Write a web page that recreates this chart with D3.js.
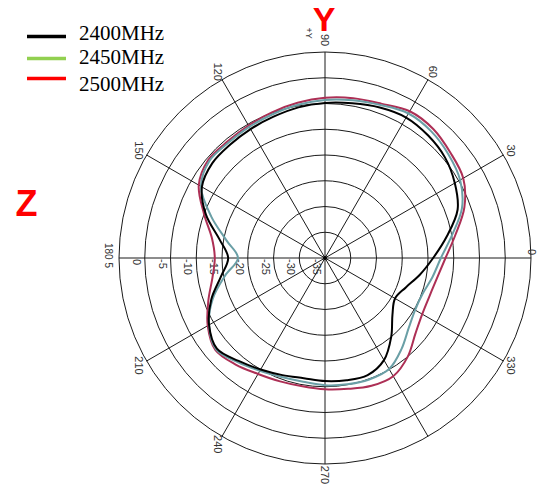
<!DOCTYPE html>
<html>
<head>
<meta charset="utf-8">
<script src="https://cdn.jsdelivr.net/npm/d3@7"></script>
<style>
  html, body { margin: 0; padding: 0; background: #fff; }
  svg { display: block; }
</style>
</head>
<body>
<svg id="chart" width="539" height="486"></svg>
<script>
// ---- data (gain in dB vs. angle in degrees) ----
const angles = [0,10,20,30,40,50,60,70,80,90,100,110,120,130,140,150,160,170,
                180,190,200,210,220,230,240,250,260,270,280,290,300,310,320,330,340,350];
const s2400 = [-14.0,-11.0,-7.6,-5.9,-4.6,-3.9,-3.5,-3.9,-4.5,-4.9,-5.3,-5.8,-6.1,-6.3,-6.4,-7.4,-10.4,-14.2,
               -16.2,-14.5,-11.5,-9.0,-7.6,-8.9,-10.0,-10.8,-11.3,-11.1,-10.9,-10.8,-12.1,-15.0,-17.9,-19.3,-18.3,-16.3];
const s2450 = [-12.5,-10.0,-6.7,-4.7,-3.7,-2.9,-2.6,-3.4,-3.9,-4.3,-4.8,-5.3,-5.6,-5.8,-5.7,-7.2,-11.5,-15.6,
               -18.1,-15.3,-11.8,-9.0,-7.4,-8.6,-9.7,-10.4,-10.6,-10.3,-10.1,-9.9,-10.1,-11.9,-13.8,-14.8,-14.8,-13.8];
const s2500 = [-11.6,-9.3,-6.2,-4.0,-3.2,-2.3,-2.1,-3.1,-3.5,-3.9,-4.4,-4.9,-5.3,-5.5,-5.4,-6.7,-10.0,-12.7,
               -13.6,-12.8,-10.9,-8.7,-7.2,-8.0,-9.0,-9.5,-9.7,-9.5,-9.2,-8.6,-8.5,-10.0,-12.1,-13.2,-13.4,-12.9];
const seriesNames = ["2400MHz","2450MHz","2500MHz"];
const ringValues = [5,0,-5,-10,-15,-20,-25,-30,-35];
const ringLabels = ["5","0","-5","-10","-15","-20","-25","-30","-35"];
const angleTicks = [0,30,60,90,120,150,180,210,240,270,330];
const angleLabels = ["0","30","60","90","120","150","180","210","240","270","330"];

// ---- layout ----
const svg = d3.select("#chart");
const cx = 325, cy = 258, R = 206;
const r = d3.scaleLinear().domain([-35, 5]).range([0, R]);
const rad = d => d * Math.PI / 180;
const px = (deg, rr) => cx + rr * Math.cos(rad(deg));
const py = (deg, rr) => cy - rr * Math.sin(rad(deg));

const lineColors = ["#000000", "#6a9fa6", "#ad2f55"];
const legendColors = ["#000000", "#92d050", "#ff0000"];

// rings
svg.append("g").selectAll("circle")
  .data(ringValues.filter(v => v > -35))
  .join("circle")
  .attr("cx", cx).attr("cy", cy)
  .attr("r", d => r(d))
  .attr("fill", "none").attr("stroke", "#1a1a1a").attr("stroke-width", 1);

// spokes (full diameters)
svg.append("g").selectAll("line")
  .data([0,30,60,90,120,150])
  .join("line")
  .attr("x1", d => px(d, R)).attr("y1", d => py(d, R))
  .attr("x2", d => px(d + 180, R)).attr("y2", d => py(d + 180, R))
  .attr("stroke", "#1a1a1a").attr("stroke-width", 1);

svg.append("circle").attr("cx", cx).attr("cy", cy).attr("r", 2).attr("fill", "#000");

// rotated text helper
function rtext(x, y, txt, size, anchor) {
  svg.append("text")
    .attr("transform", `translate(${x},${y}) rotate(90)`)
    .attr("text-anchor", anchor || "middle")
    .attr("dominant-baseline", "central")
    .attr("font-family", "Liberation Sans, Arial, sans-serif")
    .attr("font-size", size)
    .attr("fill", "#333")
    .text(txt);
}

// angle labels (180 shares its spot with the outer ring label)
angleTicks.forEach((a, i) => {
  let x = px(a, 215), y = py(a, 215);
  if (a === 0) { rtext(532, cy - 6, angleLabels[i], 11); return; }
  if (a === 180) { rtext(108, 243, angleLabels[i] + " " + ringLabels[0], 10, "start"); return; }
  if (a === 90) y = py(a, 218);
  if (a === 270) y = py(a, 217);
  rtext(x, y, angleLabels[i], 11);
});
rtext(309, 33, "+Y", 9);

// ring labels along the 180 direction (outer one drawn with the 180 label)
ringValues.forEach((v, i) => {
  if (i === 0) return;
  const x = cx - r(v) - 8;
  rtext(x, cy + 1, ringLabels[i], 11, "start");
});

// curves
const line = d3.lineRadial()
  .angle(d => rad(90 - d[0]))
  .radius(d => r(d[1]))
  .curve(d3.curveCatmullRomClosed.alpha(0.5));

const series = [s2400, s2450, s2500];
const g = svg.append("g").attr("transform", `translate(${cx},${cy})`);
[2, 1, 0].forEach(k => {
  g.append("path")
    .attr("d", line(angles.map((a, i) => [a, series[k][i]])))
    .attr("fill", "none")
    .attr("stroke", lineColors[k])
    .attr("stroke-width", 2);
});

// legend
const legY = [36.5, 58.5, 78.5];
const legTextY = [39.5, 64, 90.5];
seriesNames.forEach((n, i) => {
  svg.append("line")
    .attr("x1", 27).attr("x2", 66)
    .attr("y1", legY[i]).attr("y2", legY[i])
    .attr("stroke", legendColors[i]).attr("stroke-width", 3.5);
  svg.append("text")
    .attr("x", 79).attr("y", legTextY[i])
    .attr("font-family", "Liberation Serif, Times New Roman, serif")
    .attr("font-size", 21)
    .attr("fill", "#000")
    .text(n);
});

// axis markers
svg.append("text").attr("x", 324).attr("y", 31)
  .attr("text-anchor", "middle")
  .attr("font-family", "Liberation Sans, Arial, sans-serif")
  .attr("font-weight", "bold").attr("font-size", 34)
  .attr("fill", "#ff0000").text("Y");
svg.append("text").attr("x", 26.5).attr("y", 216)
  .attr("text-anchor", "middle")
  .attr("font-family", "Liberation Sans, Arial, sans-serif")
  .attr("font-weight", "bold").attr("font-size", 36)
  .attr("fill", "#ff0000").text("Z");
</script>
</body>
</html>
